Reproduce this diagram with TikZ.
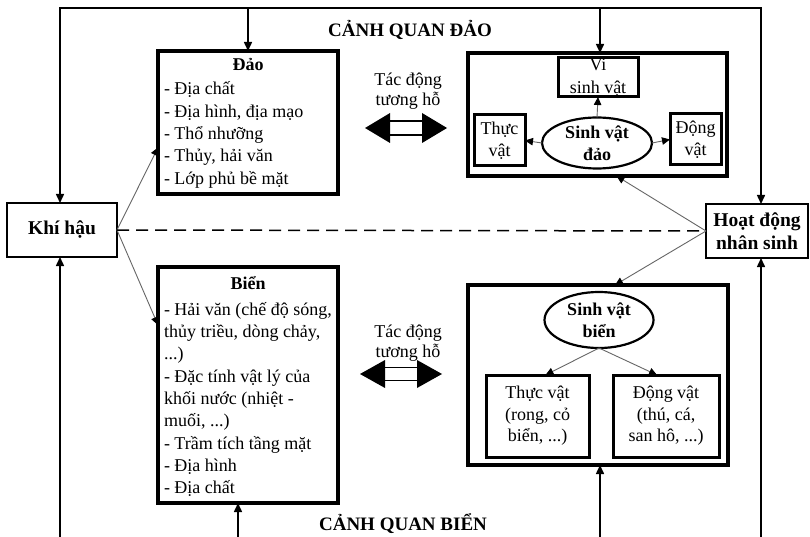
\documentclass[tikz,border=0pt]{standalone}
\usepackage{fontspec}
\setmainfont{Liberation Serif}
\usetikzlibrary{arrows.meta,shapes.geometric}
\newcommand\fsnorm{\fontsize{18}{22.3}\selectfont}
\newcommand\fsbig{\fontsize{19.5}{23.5}\selectfont\bfseries}
\newcommand\fstd{\fontsize{18}{20}\selectfont}
\begin{document}
\begin{tikzpicture}[x=1pt,y=-1pt,
  every node/.style={inner sep=0pt, outer sep=0pt},
  frame/.style={line width=1.5pt},
  thinarrow/.style={line width=0.9pt, draw=black!60, -{Triangle[length=8pt,width=7.5pt,color=black]}},
  tip/.style={-{Triangle[length=9pt,width=8pt]}},
  bigbox/.style={draw, line width=3.3pt, rectangle},
  smallbox/.style={draw, line width=3pt, rectangle, align=center, font=\fsnorm},
  plainbox/.style={draw, line width=1.5pt, rectangle, align=center, font=\fsbig},
  body/.style={font=\fsnorm, align=left},
  oval/.style={draw, ellipse, line width=2.2pt, align=center, font=\fsnorm\bfseries},
]
\fill[white] (0,0) rectangle (810,537);
\useasboundingbox (0,0) rectangle (810,537);

% titles
\node[font=\fontsize{19}{22}\selectfont\bfseries] (tdao) at (410,30) {CẢNH QUAN ĐẢO};
\node[font=\fontsize{19}{22}\selectfont\bfseries] (tbien) at (403,524) {CẢNH QUAN BIỂN};

% side boxes
\node[plainbox, minimum width=110pt, minimum height=54pt] (khi) at (62,230) {Khí hậu};
\node[plainbox, minimum width=102pt, minimum height=54pt] (hd) at (757,231) {Hoạt động\\nhân sinh};

% Dao box
\node[bigbox, minimum width=180pt, minimum height=143pt] (dao) at (248,122.5) {};
\node[font=\fsnorm\bfseries] (daoT) at (248,65) {Đảo};
\node[body, anchor=west] (daoL) at (164,135) {- Địa chất\\- Địa hình, địa mạo\\- Thổ nhưỡng\\- Thủy, hải văn\\- Lớp phủ bề mặt};

% Bien box
\node[bigbox, minimum width=180pt, minimum height=236pt] (bien) at (248,385) {};
\node[font=\fsnorm\bfseries] (bienT) at (248,283) {Biển};
\node[body, anchor=west] (bienL) at (164,399.5) {- Hải văn (chế độ sóng,\\thủy triều, dòng chảy,\\...)\\- Đặc tính vật lý của\\khối nước (nhiệt -\\muối, ...)\\- Trầm tích tầng mặt\\- Địa hình\\- Địa chất};

% interaction labels
\node[font=\fstd, align=center] (td1) at (408,91) {Tác động\\tương hỗ};
\node[font=\fstd, align=center] (td2) at (408,343) {Tác động\\tương hỗ};

% double arrows
\fill (365,128) -- (390,113) -- (390,143) -- cycle;
\fill (447,128) -- (422,113) -- (422,143) -- cycle;
\draw[line width=1.8pt] (389,121) -- (423,121) (389,135) -- (423,135);
\fill (360,374) -- (385,360) -- (385,388) -- cycle;
\fill (442,374) -- (417,360) -- (417,388) -- cycle;
\draw[line width=1.8pt] (384,367.5) -- (418,367.5) (384,380.5) -- (418,380.5);

% island organisms
\node[bigbox, minimum width=259pt, minimum height=123pt] (svdbox) at (597.5,114.5) {};
\node[smallbox, minimum width=80pt, minimum height=39pt] (vsv) at (598,77.5) {Vi\\sinh vật};
\node[smallbox, minimum width=51pt, minimum height=51pt] (tv1) at (499.5,140.5) {Thực\\vật};
\node[smallbox, minimum width=51pt, minimum height=51pt] (dv1) at (695.5,139.5) {Động\\vật};
\node[oval, minimum width=110pt, minimum height=51pt] (svd) at (597,143) {Sinh vật\\đảo};
\draw[thinarrow] (svd.north) -- (vsv.south);
\draw[thinarrow] (svd.west) -- (tv1.east);
\draw[thinarrow] (svd.east) -- (dv1.west);

% sea organisms
\node[bigbox, minimum width=260pt, minimum height=180pt] (svbbox) at (598,375) {};
\node[oval, minimum width=109pt, minimum height=56pt] (svb) at (599,320) {Sinh vật\\biển};
\node[smallbox, minimum width=103pt, minimum height=82pt, font=\fontsize{18}{21.5}\selectfont] (tv2) at (537.5,416) {Thực vật\\(rong, cỏ\\biển, ...)};
\node[smallbox, minimum width=106pt, minimum height=82pt, font=\fontsize{18}{21.5}\selectfont] (dv2) at (666,416) {Động vật\\(thú, cá,\\san hô, ...)};
\draw[thinarrow] (svb.south) -- ([xshift=8pt]tv2.north);
\draw[thinarrow] (svb.south) -- ([xshift=-9pt]dv2.north);

% influences
\draw[thinarrow] (khi.east) -- ([yshift=-25pt]dao.west);
\draw[thinarrow] (khi.east) -- ([yshift=60pt]bien.west);
\draw[thinarrow] (hd.west) -- ([xshift=19pt]svdbox.south);
\draw[thinarrow] (hd.west) -- ([xshift=17pt]svbbox.north);
\draw[frame, dash pattern=on 12pt off 7pt] (khi.east) -- (hd.west);

% frame
\coordinate (tl) at (60,8);
\coordinate (tr) at (761,8);
\coordinate (t1) at (248,8);
\coordinate (t2) at (600,8);
\coordinate (b0) at (60,537);
\coordinate (b1) at (238,537);
\coordinate (b2) at (600,537);
\coordinate (b3) at (761,537);
\draw[frame, {Triangle[length=9pt,width=8pt]}-{Triangle[length=9pt,width=8pt]}] (khi.north -| tl) -- (tl) -- (tr) -- (hd.north -| tr);
\draw[frame, tip] (t1) -- (dao.north);
\draw[frame, tip] (t2) -- (t2 |- svdbox.north);
\draw[frame, tip] (b0) -- (b0 |- khi.south);
\draw[frame, tip] (b1) -- (b1 |- bien.south);
\draw[frame, tip] (b2) -- (b2 |- svbbox.south);
\draw[frame, tip] (b3) -- (b3 |- hd.south);
\end{tikzpicture}
\end{document}
